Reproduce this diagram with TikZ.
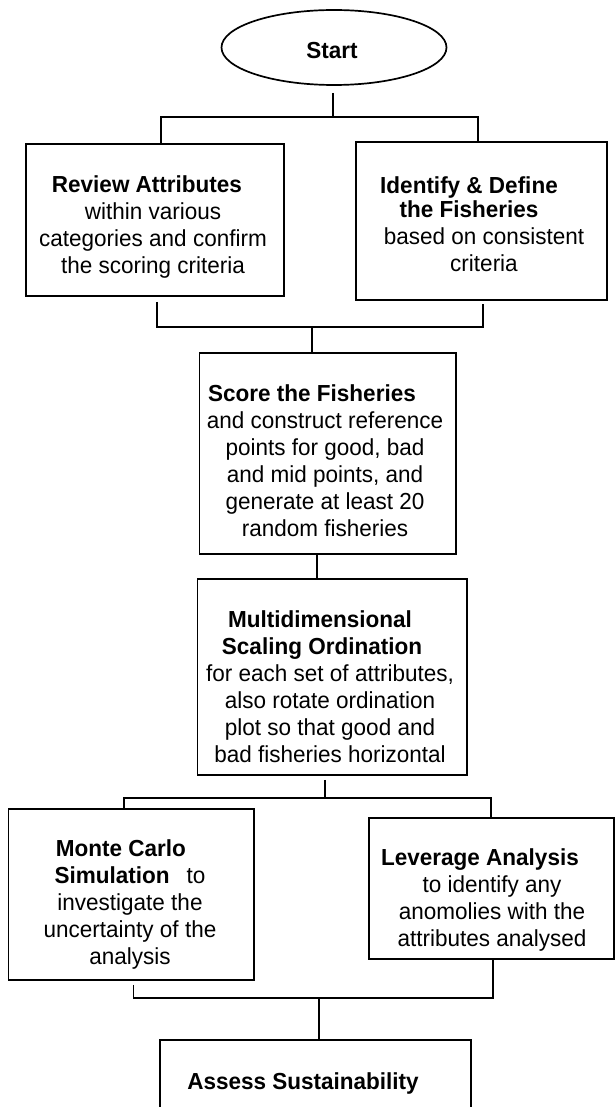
\documentclass[tikz,border=0pt]{standalone}
\usepackage{fontspec}
\setmainfont{Liberation Sans}[FakeStretch=0.97]
\usetikzlibrary{shapes.geometric,calc}
% bold heading line followed by a fixed trailing gap
\newcommand{\headline}[2]{\mbox{\textbf{#1}\kern#2pt}}
\begin{document}
\begin{tikzpicture}[x=1pt,y=-1pt,
  box/.style={draw, line width=1.7pt, rectangle, inner sep=0pt},
  conn/.style={line width=1.7pt},
  txt/.style={align=center, inner sep=0pt, font=\fontsize{23.2}{27}\selectfont}]
\clip (0,0) rectangle (615,1107);

% start terminal
\node[draw, ellipse, line width=1.7pt, minimum width=225pt, minimum height=75pt, inner sep=0pt]
  (start) at (334,47.5) {};
\node[txt] (startT) at (332,51) {\textbf{Start}};

% process boxes
\node[box, minimum width=258pt, minimum height=152pt] (rev) at (155,220) {};
\node[box, minimum width=251pt, minimum height=158pt] (ide) at (481.5,221) {};
\node[box, minimum width=256.5pt, minimum height=201pt] (score) at (327.75,453.5) {};
\node[box, minimum width=269.5pt, minimum height=196pt] (mds) at (332.25,677) {};
\node[box, minimum width=245.4pt, minimum height=171pt] (mc) at (131.3,894.5) {};
\node[box, minimum width=245pt, minimum height=141pt] (la) at (491.5,888.5) {};
\node[box, minimum width=311pt, minimum height=160pt] (assess) at (315.5,1120) {};

% box texts
\node[txt] (revT) at (153,227) {\headline{Review Attributes}{12}\\ within various\\ categories and confirm\\ the scoring criteria};
\node[txt] (ideT) at (484,224) {\headline{Identify \& Define}{30}\\[-3pt] \headline{the Fisheries}{30}\\ based on consistent\\ criteria};
\node[txt] (scoreT) at (325,461) {\headline{Score the Fisheries}{26}\\ and construct reference\\ points for good, bad\\ and mid points, and\\ generate at least 20\\ random fisheries};
\node[txt] (mdsT) at (330,687) {\headline{Multidimensional}{20}\\ \headline{Scaling Ordination}{16}\\ for each set of attributes,\\ also rotate ordination\\ plot so that good and\\ bad fisheries horizontal};
\node[txt] (mcT) at (130,904) {\headline{Monte Carlo}{18}\\ \textbf{Simulation}\hspace{17pt}to\\ investigate the\\ uncertainty of the\\ analysis};
\node[txt] (laT) at (492,899.5) {\headline{Leverage Analysis}{24}\\ to identify any\\ anomolies with the\\ attributes analysed};
\node[txt] (assessT) at (303,1083) {\textbf{Assess Sustainability}};

% junction points of the connector buses
\coordinate (b1L) at (161,117);
\coordinate (b1R) at (478,117);
\coordinate (b1C) at (333,117);
\coordinate (b2L) at (157,327);
\coordinate (b2R) at (483,327);
\coordinate (b2C) at (312,327);
\coordinate (b3L) at (124,798);
\coordinate (b3R) at (491,798);
\coordinate (b3C) at (325,798);
\coordinate (b4L) at (133.5,998);
\coordinate (b4R) at (493,998);
\coordinate (b4C) at (319,998);

% start -> first two boxes
\draw[conn] ($(start.south -| b1C)+(0,7)$) -- (b1C);
\draw[conn] (rev.north -| b1L) -- (b1L) -- (b1R) -- (ide.north -| b1R);

% first two boxes -> scoring
\draw[conn] ($(rev.south -| b2L)+(0,5)$) -- (b2L) -- (b2R) -- ($(ide.south -| b2R)+(0,3)$);
\draw[conn] (b2C) -- (score.north -| b2C);

% scoring -> ordination
\draw[conn] (score.south -| 317,0) -- (mds.north -| 317,0);

% ordination -> simulation and leverage
\draw[conn] ($(mds.south -| b3C)+(0,4)$) -- (b3C);
\draw[conn] (mc.north -| b3L) -- (b3L) -- (b3R) -- (la.north -| b3R);

% simulation and leverage -> sustainability
\draw[conn] ($(mc.south -| b4L)+(0,4)$) -- (b4L) -- (b4R) -- (la.south -| b4R);
\draw[conn] (b4C) -- (assess.north -| b4C);
\end{tikzpicture}
\end{document}
